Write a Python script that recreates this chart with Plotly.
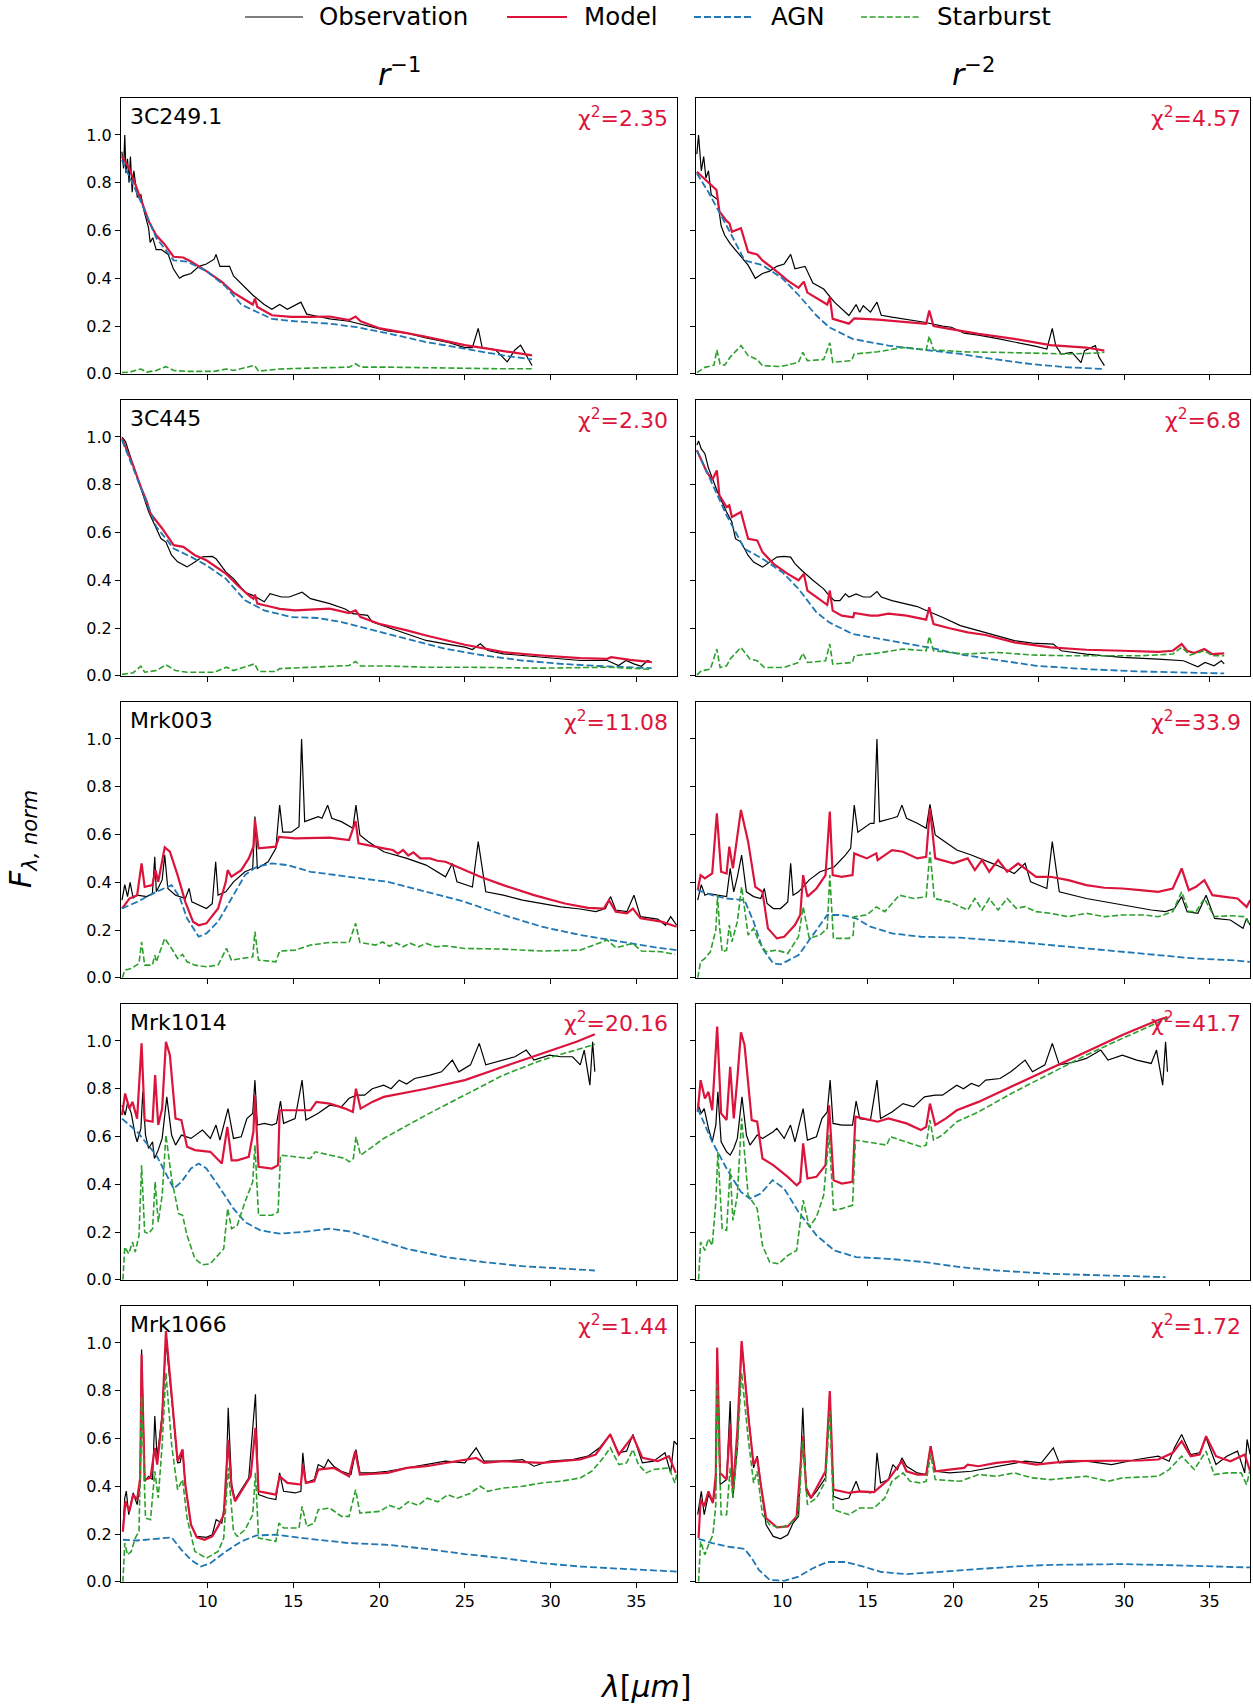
import plotly.graph_objects as go
from plotly.subplots import make_subplots

# Spectra as (wavelength [um], normalised flux) pairs, one list per curve.

# ---------------- 3C249.1 ----------------
OBS_3C249_R1 = [(5.00,0.93),(5.10,0.86),(5.17,1.00),(5.24,0.84),(5.33,0.90),(5.42,0.80),(5.50,0.91),(5.60,0.76),(5.70,0.85),(5.80,0.78),(5.90,0.74),(6.11,0.75),(6.30,0.68),(6.56,0.61),(6.65,0.55),(6.80,0.57),(7.00,0.52),(7.30,0.52),(7.70,0.50),(8.00,0.44),(8.36,0.40),(8.58,0.41),(9.03,0.42),(9.50,0.45),(9.93,0.46),(10.38,0.48),(10.49,0.50),(10.72,0.45),(11.28,0.45),(11.51,0.41),(12.18,0.36),(12.63,0.33),(13.30,0.29),(13.75,0.27),(14.20,0.29),(14.65,0.27),(15.44,0.30),(15.78,0.25),(16.45,0.24),(17.12,0.23),(18.25,0.22),(19.37,0.20),(20.49,0.18),(21.62,0.17),(22.74,0.15),(24.09,0.13),(25.00,0.11),(25.44,0.11),(25.78,0.19),(26.01,0.11),(26.79,0.10),(27.47,0.05),(27.92,0.10),(28.25,0.12),(28.58,0.08),(28.92,0.035)]
MOD_3C249_R1 = [(5.00,0.91),(5.44,0.86),(6.11,0.73),(6.56,0.64),(7.00,0.58),(7.46,0.545),(8.02,0.49),(8.58,0.487),(9.03,0.47),(9.93,0.43),(10.83,0.385),(11.51,0.34),(12.18,0.31),(12.63,0.29),(12.76,0.315),(12.90,0.28),(13.75,0.245),(14.88,0.238),(16.00,0.238),(17.12,0.24),(18.25,0.225),(18.63,0.24),(18.92,0.22),(20.05,0.19),(21.62,0.17),(22.74,0.155),(25.00,0.12),(27.24,0.095),(28.92,0.077)]
AGN_3C249_R1 = [(5.00,0.895),(6.11,0.72),(7.00,0.57),(8.02,0.475),(8.80,0.47),(9.93,0.43),(11.06,0.365),(11.96,0.29),(12.85,0.26),(13.75,0.23),(15.10,0.22),(17.12,0.21),(18.70,0.195),(20.49,0.17),(22.74,0.133),(25.00,0.105),(27.24,0.077),(28.92,0.06)]
SB_3C249_R1 = [(5.00,0.005),(5.44,0.007),(6.11,0.02),(6.45,0.007),(7.00,0.014),(7.57,0.03),(8.02,0.014),(8.80,0.01),(10.38,0.01),(11.10,0.02),(11.51,0.014),(12.74,0.035),(12.97,0.011),(14.20,0.02),(16.00,0.024),(18.25,0.028),(18.63,0.042),(18.92,0.028),(20.49,0.028),(22.74,0.025),(25.00,0.024),(27.24,0.021),(28.92,0.021)]

OBS_3C249_R2 = [(5.00,0.92),(5.10,1.00),(5.26,0.85),(5.40,0.91),(5.53,0.82),(5.68,0.85),(5.84,0.75),(6.21,0.73),(6.42,0.62),(6.63,0.58),(6.95,0.545),(7.37,0.51),(8.00,0.455),(8.42,0.40),(8.84,0.42),(9.26,0.43),(9.68,0.45),(10.11,0.46),(10.49,0.50),(10.74,0.44),(11.33,0.45),(11.79,0.38),(12.42,0.355),(13.05,0.30),(13.90,0.244),(14.32,0.29),(14.53,0.258),(14.74,0.285),(15.16,0.258),(15.54,0.30),(15.79,0.245),(16.42,0.237),(17.27,0.227),(18.32,0.216),(19.37,0.20),(19.90,0.195),(20.64,0.17),(21.48,0.162),(22.53,0.148),(23.58,0.134),(24.85,0.115),(25.48,0.104),(25.80,0.19),(26.00,0.118),(26.32,0.083),(26.95,0.09),(27.48,0.047),(27.69,0.097),(28.32,0.118),(28.53,0.07),(28.85,0.034)]
MOD_3C249_R2 = [(5.00,0.846),(5.68,0.80),(6.15,0.77),(6.32,0.68),(6.74,0.64),(6.91,0.63),(7.05,0.595),(7.58,0.61),(8.00,0.51),(8.53,0.50),(8.84,0.475),(9.47,0.44),(10.32,0.39),(10.95,0.36),(11.26,0.386),(11.47,0.34),(12.00,0.317),(12.63,0.29),(12.78,0.32),(12.95,0.23),(13.90,0.21),(14.21,0.232),(15.58,0.227),(17.27,0.218),(18.42,0.209),(18.60,0.265),(18.85,0.20),(19.79,0.188),(21.48,0.167),(23.58,0.146),(25.69,0.12),(27.79,0.11),(28.85,0.097)]
AGN_3C249_R2 = [(5.00,0.84),(5.68,0.76),(6.74,0.62),(7.79,0.475),(8.84,0.455),(10.00,0.40),(10.95,0.33),(12.00,0.244),(12.74,0.195),(14.11,0.146),(16.21,0.118),(18.53,0.10),(20.42,0.083),(22.53,0.06),(24.64,0.04),(26.74,0.027),(28.85,0.02)]
SB_3C249_R2 = [(5.00,0.005),(5.47,0.027),(6.00,0.036),(6.17,0.10),(6.36,0.041),(6.63,0.036),(6.95,0.07),(7.58,0.118),(8.00,0.076),(8.53,0.06),(8.84,0.034),(9.90,0.03),(10.95,0.048),(11.20,0.09),(11.47,0.055),(12.42,0.06),(12.78,0.13),(12.95,0.048),(14.05,0.055),(14.21,0.083),(15.58,0.092),(17.06,0.11),(18.42,0.10),(18.60,0.157),(18.85,0.10),(20.64,0.092),(22.53,0.09),(24.64,0.087),(26.74,0.083),(28.43,0.087),(28.85,0.09)]

# ---------------- 3C445 ----------------
OBS_3C445_R1 = [(5.01,1.00),(5.22,0.98),(5.44,0.93),(5.66,0.88),(6.11,0.785),(6.56,0.687),(7.01,0.617),(7.28,0.575),(7.57,0.56),(7.90,0.505),(8.25,0.477),(8.80,0.456),(9.26,0.477),(9.70,0.498),(10.27,0.50),(10.49,0.49),(11.06,0.435),(11.51,0.407),(12.18,0.35),(12.63,0.337),(13.30,0.31),(13.64,0.344),(14.31,0.33),(14.76,0.33),(15.51,0.35),(16.00,0.323),(17.12,0.302),(18.02,0.28),(18.47,0.26),(19.33,0.253),(19.60,0.225),(20.49,0.204),(21.62,0.176),(22.74,0.148),(23.87,0.134),(25.00,0.12),(25.44,0.11),(25.90,0.134),(26.34,0.106),(27.24,0.092),(28.36,0.085),(29.48,0.078),(30.60,0.071),(31.73,0.064),(33.30,0.064),(33.96,0.043),(34.40,0.064),(34.85,0.05),(35.30,0.04),(35.66,0.064),(35.89,0.057)]
MOD_3C445_R1 = [(5.01,0.994),(5.66,0.88),(6.11,0.79),(6.45,0.73),(6.67,0.68),(7.01,0.65),(7.35,0.617),(8.02,0.547),(8.58,0.54),(9.26,0.505),(9.93,0.484),(11.06,0.428),(11.73,0.38),(12.40,0.337),(12.67,0.323),(12.76,0.34),(12.90,0.302),(13.75,0.288),(14.20,0.28),(15.10,0.274),(16.00,0.278),(17.12,0.281),(18.25,0.263),(18.63,0.274),(18.92,0.246),(20.00,0.218),(21.62,0.19),(22.74,0.169),(25.00,0.13),(27.24,0.099),(29.48,0.085),(31.73,0.074),(33.30,0.071),(33.53,0.078),(34.63,0.067),(35.89,0.057)]
AGN_3C445_R1 = [(5.01,0.987),(6.11,0.785),(7.01,0.624),(8.02,0.533),(9.03,0.498),(9.93,0.463),(11.06,0.407),(12.18,0.316),(13.30,0.274),(14.88,0.246),(16.45,0.242),(17.80,0.225),(19.37,0.197),(21.62,0.155),(23.87,0.113),(26.12,0.085),(28.36,0.064),(30.60,0.05),(32.85,0.041),(35.89,0.032)]
SB_3C445_R1 = [(5.01,0.006),(5.66,0.013),(6.11,0.04),(6.33,0.015),(7.01,0.022),(7.57,0.046),(8.13,0.022),(8.80,0.015),(10.38,0.015),(11.10,0.036),(11.51,0.022),(12.74,0.05),(12.97,0.018),(13.98,0.018),(14.20,0.03),(16.00,0.036),(18.25,0.043),(18.63,0.06),(18.92,0.041),(20.49,0.041),(22.74,0.036),(25.00,0.036),(29.48,0.032),(33.30,0.036),(35.89,0.027)]

OBS_3C445_R2 = [(5.00,0.966),(5.10,0.983),(5.26,0.95),(5.47,0.93),(5.68,0.87),(6.21,0.77),(6.74,0.686),(7.05,0.644),(7.26,0.574),(7.58,0.56),(8.00,0.504),(8.32,0.476),(8.84,0.455),(9.16,0.47),(9.68,0.497),(10.11,0.50),(10.49,0.497),(10.74,0.47),(11.16,0.44),(11.79,0.40),(12.42,0.364),(12.74,0.336),(13.05,0.315),(13.37,0.315),(13.69,0.343),(13.90,0.33),(14.32,0.343),(14.74,0.33),(15.16,0.33),(15.54,0.353),(15.79,0.33),(16.42,0.315),(17.27,0.30),(17.90,0.29),(18.53,0.27),(19.37,0.245),(20.42,0.21),(21.48,0.19),(22.53,0.168),(23.58,0.147),(24.64,0.137),(25.86,0.133),(26.32,0.105),(27.79,0.091),(29.90,0.077),(32.00,0.07),(33.48,0.063),(34.32,0.038),(34.74,0.056),(35.27,0.042),(35.69,0.063),(35.86,0.05)]
MOD_3C445_R2 = [(5.00,0.945),(5.58,0.854),(5.90,0.82),(6.17,0.86),(6.32,0.756),(6.74,0.707),(6.90,0.714),(7.05,0.665),(7.58,0.686),(8.00,0.574),(8.53,0.567),(8.84,0.518),(9.47,0.47),(10.32,0.427),(10.95,0.40),(11.26,0.427),(11.47,0.357),(12.00,0.33),(12.63,0.297),(12.78,0.357),(12.95,0.273),(13.48,0.252),(14.15,0.245),(14.21,0.263),(15.16,0.252),(15.58,0.252),(16.21,0.26),(17.27,0.252),(18.42,0.235),(18.60,0.287),(18.85,0.217),(19.79,0.199),(20.85,0.182),(21.90,0.171),(23.58,0.14),(25.69,0.119),(27.79,0.109),(29.90,0.105),(32.00,0.10),(32.85,0.105),(33.37,0.133),(33.69,0.105),(34.11,0.095),(34.70,0.112),(35.17,0.091),(35.86,0.094)]
AGN_3C445_R2 = [(5.00,0.945),(5.68,0.84),(6.74,0.672),(7.79,0.532),(8.84,0.49),(10.00,0.434),(10.95,0.364),(12.00,0.266),(12.74,0.224),(14.11,0.175),(16.21,0.147),(18.53,0.119),(20.64,0.087),(22.74,0.063),(24.85,0.042),(27.79,0.028),(30.95,0.018),(35.86,0.01)]
SB_3C445_R2 = [(5.00,0.003),(5.26,0.021),(5.79,0.028),(6.17,0.112),(6.36,0.035),(6.74,0.042),(6.95,0.07),(7.58,0.119),(8.11,0.07),(8.53,0.063),(8.95,0.035),(10.11,0.035),(10.95,0.056),(11.20,0.095),(11.47,0.056),(12.53,0.063),(12.78,0.133),(12.95,0.049),(14.11,0.056),(14.21,0.084),(15.58,0.095),(17.06,0.112),(18.42,0.105),(18.60,0.165),(18.85,0.105),(20.64,0.091),(22.53,0.098),(24.64,0.087),(26.74,0.084),(28.85,0.084),(31.00,0.084),(32.85,0.091),(33.37,0.119),(33.85,0.087),(34.70,0.105),(35.17,0.084),(35.86,0.084)]

# ---------------- Mrk003 ----------------
OBS_MRK003_R1 = [(5.01,0.325),(5.17,0.39),(5.33,0.34),(5.48,0.40),(5.66,0.334),(5.89,0.346),(6.45,0.34),(6.78,0.353),(6.92,0.507),(7.01,0.36),(7.35,0.41),(7.50,0.514),(7.68,0.374),(8.13,0.346),(8.70,0.332),(8.92,0.374),(9.08,0.318),(9.48,0.304),(9.93,0.29),(10.27,0.31),(10.47,0.486),(10.61,0.346),(11.06,0.36),(11.51,0.402),(12.18,0.444),(12.63,0.458),(12.76,0.675),(12.90,0.458),(13.53,0.486),(13.98,0.542),(14.20,0.723),(14.38,0.61),(14.88,0.61),(15.33,0.633),(15.48,1.00),(15.66,0.654),(16.45,0.675),(16.67,0.668),(17.00,0.723),(17.24,0.668),(17.80,0.654),(18.47,0.626),(18.65,0.723),(18.88,0.598),(19.37,0.57),(20.27,0.528),(21.62,0.50),(22.74,0.472),(23.87,0.423),(24.27,0.479),(24.54,0.402),(25.44,0.38),(25.78,0.57),(26.22,0.36),(27.24,0.346),(28.36,0.325),(29.48,0.311),(30.60,0.297),(31.73,0.288),(32.63,0.277),(33.20,0.29),(33.50,0.34),(33.80,0.284),(34.45,0.277),(34.86,0.346),(35.24,0.256),(36.25,0.246),(36.70,0.22),(37.00,0.256),(37.35,0.22)]
MOD_MRK003_R1 = [(5.01,0.29),(5.44,0.332),(5.89,0.346),(6.15,0.479),(6.33,0.381),(6.78,0.388),(6.96,0.451),(7.12,0.402),(7.50,0.546),(7.80,0.528),(8.25,0.43),(8.70,0.318),(9.15,0.235),(9.48,0.22),(9.93,0.228),(10.61,0.29),(11.06,0.402),(11.17,0.451),(11.39,0.423),(11.96,0.451),(12.40,0.50),(12.67,0.549),(12.76,0.661),(12.97,0.542),(13.98,0.549),(14.16,0.59),(15.10,0.584),(16.00,0.584),(17.12,0.587),(18.25,0.577),(18.63,0.656),(18.80,0.563),(19.37,0.556),(20.27,0.542),(20.80,0.535),(21.10,0.52),(21.40,0.535),(21.70,0.512),(22.00,0.525),(22.40,0.50),(22.97,0.50),(23.40,0.49),(23.87,0.486),(24.76,0.458),(25.90,0.423),(27.24,0.388),(29.03,0.346),(30.83,0.311),(32.18,0.293),(33.10,0.29),(33.40,0.325),(33.80,0.277),(34.45,0.27),(34.80,0.29),(35.24,0.249),(36.46,0.235),(37.35,0.214)]
AGN_MRK003_R1 = [(5.01,0.29),(5.89,0.318),(7.01,0.36),(7.90,0.388),(8.36,0.34),(8.80,0.249),(9.48,0.172),(9.93,0.186),(10.61,0.235),(11.51,0.346),(12.18,0.43),(12.85,0.465),(13.75,0.479),(14.65,0.472),(16.00,0.444),(18.25,0.423),(20.49,0.402),(22.74,0.36),(25.00,0.318),(27.24,0.263),(29.48,0.214),(31.73,0.179),(33.98,0.151),(36.23,0.126),(37.35,0.116)]
SB_MRK003_R1 = [(5.03,0.0),(5.17,0.032),(5.55,0.039),(6.00,0.06),(6.15,0.15),(6.33,0.053),(6.78,0.053),(6.92,0.095),(7.01,0.067),(7.50,0.165),(7.90,0.123),(8.25,0.081),(8.54,0.098),(8.80,0.067),(9.26,0.053),(9.93,0.046),(10.61,0.053),(11.10,0.123),(11.39,0.074),(11.96,0.081),(12.63,0.088),(12.76,0.193),(12.97,0.074),(13.98,0.067),(14.20,0.112),(15.10,0.116),(16.00,0.137),(17.12,0.148),(18.25,0.148),(18.63,0.228),(18.88,0.148),(19.80,0.137),(20.20,0.15),(20.60,0.132),(21.00,0.146),(21.40,0.13),(21.80,0.145),(22.30,0.13),(22.74,0.144),(23.30,0.13),(23.87,0.134),(25.00,0.123),(27.24,0.12),(29.48,0.112),(31.73,0.116),(33.30,0.158),(33.80,0.126),(34.80,0.144),(35.30,0.112),(36.46,0.109),(37.25,0.098)]

OBS_MRK003_R2 = [(5.05,0.325),(5.26,0.39),(5.47,0.346),(5.68,0.353),(6.21,0.346),(6.74,0.34),(6.95,0.458),(7.16,0.36),(7.37,0.423),(7.62,0.514),(7.90,0.36),(8.32,0.34),(8.74,0.332),(8.95,0.374),(9.11,0.311),(9.47,0.29),(9.90,0.29),(10.32,0.318),(10.49,0.479),(10.63,0.346),(10.95,0.36),(11.58,0.41),(12.21,0.444),(12.74,0.458),(13.05,0.465),(13.69,0.514),(14.00,0.542),(14.21,0.723),(14.42,0.61),(15.16,0.647),(15.37,0.647),(15.54,1.00),(15.69,0.654),(16.42,0.668),(16.74,0.675),(17.00,0.723),(17.27,0.668),(17.90,0.647),(18.42,0.626),(18.64,0.726),(18.95,0.598),(19.37,0.577),(20.21,0.535),(21.06,0.514),(22.53,0.472),(23.58,0.437),(24.21,0.479),(24.53,0.402),(25.48,0.374),(25.80,0.57),(26.21,0.36),(27.79,0.332),(29.90,0.304),(31.59,0.284),(32.43,0.277),(32.95,0.29),(33.37,0.34),(33.69,0.277),(34.32,0.27),(34.80,0.346),(35.30,0.249),(36.22,0.242),(36.96,0.207),(37.17,0.249),(37.38,0.22)]
MOD_MRK003_R2 = [(5.05,0.367),(5.22,0.43),(5.47,0.416),(5.90,0.437),(6.17,0.689),(6.42,0.444),(6.74,0.437),(6.90,0.549),(7.11,0.458),(7.58,0.703),(8.00,0.57),(8.42,0.381),(8.84,0.36),(9.16,0.207),(9.68,0.165),(10.11,0.172),(10.74,0.221),(11.05,0.263),(11.22,0.43),(11.47,0.34),(12.00,0.374),(12.53,0.43),(12.78,0.696),(12.95,0.43),(13.48,0.423),(14.11,0.43),(14.21,0.521),(14.95,0.50),(15.50,0.521),(15.58,0.493),(16.42,0.535),(17.06,0.528),(17.90,0.50),(18.42,0.507),(18.64,0.709),(18.95,0.50),(20.00,0.479),(20.85,0.50),(21.27,0.451),(21.69,0.493),(22.11,0.444),(22.63,0.493),(23.16,0.444),(23.80,0.479),(24.85,0.423),(25.69,0.423),(26.74,0.409),(27.79,0.388),(28.85,0.377),(29.90,0.374),(30.95,0.367),(32.00,0.36),(32.85,0.374),(33.37,0.458),(33.79,0.367),(34.21,0.381),(34.70,0.409),(35.17,0.346),(35.80,0.34),(36.64,0.332),(37.17,0.297),(37.38,0.325)]
AGN_MRK003_R2 = [(5.05,0.367),(5.90,0.346),(6.74,0.332),(7.79,0.325),(8.32,0.235),(8.84,0.123),(9.47,0.06),(9.90,0.056),(10.95,0.095),(11.79,0.179),(12.63,0.263),(13.48,0.263),(14.32,0.249),(15.16,0.214),(16.42,0.186),(18.11,0.172),(20.42,0.168),(23.58,0.151),(25.69,0.137),(27.79,0.12),(29.90,0.109),(32.00,0.095),(34.11,0.081),(36.22,0.074),(37.38,0.067)]
SB_MRK003_R2 = [(5.05,0.0),(5.22,0.067),(5.47,0.081),(5.79,0.109),(6.11,0.20),(6.21,0.346),(6.32,0.221),(6.48,0.109),(6.74,0.116),(6.90,0.221),(7.05,0.151),(7.37,0.235),(7.62,0.381),(8.00,0.179),(8.32,0.207),(8.63,0.151),(9.05,0.109),(9.68,0.116),(10.32,0.102),(10.95,0.172),(11.22,0.297),(11.58,0.165),(12.21,0.179),(12.63,0.207),(12.78,0.43),(12.99,0.165),(13.90,0.165),(14.15,0.179),(14.21,0.256),(14.95,0.263),(15.50,0.297),(16.00,0.277),(16.85,0.346),(17.69,0.332),(18.42,0.339),(18.64,0.528),(18.90,0.332),(19.79,0.318),(20.85,0.284),(21.27,0.332),(21.69,0.284),(22.11,0.332),(22.63,0.284),(23.16,0.332),(23.69,0.291),(24.21,0.298),(24.85,0.277),(25.69,0.27),(26.74,0.256),(27.79,0.27),(28.85,0.256),(29.90,0.263),(31.17,0.263),(32.00,0.256),(32.85,0.277),(33.37,0.36),(33.79,0.277),(34.21,0.277),(34.70,0.332),(35.27,0.256),(36.22,0.26),(37.06,0.256),(37.38,0.22)]

# ---------------- Mrk1014 ----------------
OBS_MRK1014_R1 = [(5.01,0.731),(5.19,0.69),(5.33,0.74),(5.55,0.697),(5.78,0.606),(5.89,0.578),(6.11,0.634),(6.22,0.787),(6.38,0.606),(6.56,0.55),(6.79,0.578),(6.90,0.508),(7.12,0.543),(7.35,0.592),(7.62,0.766),(7.90,0.606),(8.13,0.564),(8.47,0.606),(9.03,0.592),(9.70,0.627),(10.16,0.592),(10.49,0.648),(10.72,0.585),(11.19,0.717),(11.51,0.592),(11.96,0.599),(12.29,0.675),(12.63,0.697),(12.76,0.836),(12.90,0.648),(13.30,0.655),(13.75,0.648),(14.02,0.655),(14.25,0.748),(14.43,0.655),(15.10,0.675),(15.51,0.836),(15.73,0.669),(16.45,0.697),(17.12,0.731),(17.80,0.724),(18.25,0.76),(18.70,0.773),(19.15,0.773),(19.60,0.80),(20.27,0.815),(20.70,0.80),(21.17,0.836),(21.60,0.82),(22.07,0.843),(22.97,0.857),(23.64,0.871),(24.27,0.92),(24.65,0.871),(25.33,0.90),(25.84,0.99),(26.22,0.90),(27.24,0.92),(27.92,0.934),(28.58,0.962),(29.03,0.92),(29.93,0.941),(30.60,0.934),(31.28,0.934),(31.73,0.90),(31.96,0.962),(32.29,0.815),(32.45,0.997),(32.58,0.871)]
MOD_MRK1014_R1 = [(5.01,0.69),(5.19,0.78),(5.44,0.717),(5.62,0.745),(5.89,0.675),(6.15,0.99),(6.33,0.669),(6.79,0.662),(6.94,0.857),(7.12,0.648),(7.35,0.717),(7.57,0.997),(7.80,0.941),(8.13,0.675),(8.47,0.669),(8.80,0.557),(9.26,0.543),(10.16,0.536),(10.83,0.487),(11.15,0.64),(11.40,0.50),(11.73,0.50),(12.40,0.515),(12.67,0.62),(12.76,0.773),(12.97,0.473),(13.75,0.466),(14.11,0.48),(14.20,0.71),(14.65,0.71),(16.00,0.71),(16.34,0.745),(17.12,0.738),(18.02,0.717),(18.47,0.703),(18.65,0.80),(18.92,0.717),(19.60,0.745),(20.27,0.766),(22.74,0.80),(25.00,0.836),(27.24,0.892),(29.48,0.948),(31.51,0.997),(32.58,1.028)]
AGN_MRK1014_R1 = [(5.01,0.675),(5.89,0.62),(7.01,0.522),(8.02,0.382),(8.47,0.41),(9.03,0.466),(9.48,0.487),(9.93,0.466),(10.61,0.396),(11.51,0.298),(12.18,0.242),(13.08,0.207),(14.20,0.193),(15.55,0.20),(17.12,0.214),(18.25,0.203),(20.00,0.165),(21.62,0.13),(23.87,0.095),(26.12,0.074),(28.36,0.057),(30.60,0.046),(32.58,0.039)]
SB_MRK1014_R1 = [(5.06,0.0),(5.17,0.137),(5.40,0.109),(5.62,0.158),(5.78,0.116),(6.00,0.186),(6.15,0.48),(6.33,0.20),(6.56,0.193),(6.79,0.214),(6.94,0.41),(7.12,0.242),(7.35,0.354),(7.57,0.606),(7.90,0.424),(8.31,0.277),(8.54,0.27),(8.80,0.186),(9.26,0.088),(9.70,0.063),(10.16,0.067),(10.61,0.102),(10.94,0.13),(11.17,0.298),(11.40,0.214),(11.73,0.228),(12.18,0.326),(12.63,0.41),(12.76,0.564),(12.97,0.27),(13.75,0.27),(14.11,0.284),(14.25,0.522),(15.10,0.515),(16.00,0.508),(16.27,0.536),(17.12,0.522),(18.02,0.508),(18.25,0.494),(18.50,0.508),(18.65,0.599),(18.92,0.522),(19.60,0.557),(20.27,0.592),(22.74,0.69),(25.00,0.773),(27.24,0.857),(29.48,0.92),(31.51,0.962),(32.58,0.986)]

OBS_MRK1014_R2 = [(5.05,0.738),(5.26,0.697),(5.43,0.717),(5.68,0.634),(5.90,0.578),(6.11,0.648),(6.23,0.787),(6.42,0.578),(6.74,0.536),(6.95,0.522),(7.16,0.55),(7.37,0.592),(7.64,0.766),(7.90,0.606),(8.11,0.564),(8.53,0.606),(8.84,0.592),(9.47,0.62),(9.68,0.634),(10.11,0.592),(10.48,0.648),(10.74,0.578),(11.22,0.717),(11.47,0.585),(12.00,0.599),(12.32,0.675),(12.63,0.703),(12.80,0.836),(12.97,0.655),(13.48,0.648),(14.11,0.648),(14.32,0.748),(14.53,0.675),(15.16,0.669),(15.54,0.836),(15.75,0.675),(16.42,0.703),(17.06,0.738),(17.69,0.724),(18.32,0.766),(18.95,0.773),(19.37,0.773),(20.21,0.815),(20.60,0.80),(21.06,0.822),(21.50,0.81),(21.90,0.836),(22.74,0.843),(23.37,0.871),(24.21,0.92),(24.64,0.871),(25.37,0.90),(25.80,0.99),(26.21,0.90),(27.16,0.913),(27.79,0.927),(28.64,0.962),(29.06,0.92),(29.90,0.941),(30.74,0.92),(31.59,0.906),(31.90,0.962),(32.26,0.815),(32.43,0.997),(32.54,0.871)]
MOD_MRK1014_R2 = [(5.05,0.703),(5.22,0.836),(5.47,0.759),(5.68,0.787),(5.90,0.71),(6.19,1.06),(6.42,0.697),(6.74,0.669),(6.95,0.892),(7.16,0.676),(7.37,0.843),(7.58,1.036),(7.79,0.983),(8.21,0.669),(8.53,0.662),(8.84,0.508),(9.47,0.48),(10.32,0.431),(10.84,0.396),(11.05,0.41),(11.22,0.571),(11.47,0.424),(12.00,0.431),(12.53,0.48),(12.74,0.731),(13.00,0.417),(13.48,0.403),(14.11,0.41),(14.28,0.683),(15.58,0.662),(16.21,0.676),(17.27,0.655),(18.11,0.627),(18.42,0.641),(18.64,0.738),(18.95,0.648),(19.58,0.676),(20.21,0.71),(21.48,0.745),(23.58,0.815),(25.69,0.885),(27.79,0.955),(29.90,1.025),(32.00,1.088),(32.54,1.10)]
AGN_MRK1014_R2 = [(5.05,0.717),(5.90,0.578),(6.74,0.466),(7.58,0.368),(8.11,0.34),(8.74,0.361),(9.43,0.417),(10.11,0.382),(10.95,0.284),(12.00,0.186),(13.05,0.123),(14.32,0.095),(16.21,0.088),(18.32,0.074),(20.42,0.053),(22.53,0.039),(25.69,0.025),(28.85,0.018),(32.43,0.011)]
SB_MRK1014_R2 = [(5.10,0.0),(5.22,0.158),(5.47,0.123),(5.68,0.172),(5.90,0.144),(6.11,0.326),(6.23,0.536),(6.48,0.214),(6.74,0.207),(6.95,0.466),(7.11,0.249),(7.37,0.354),(7.62,0.676),(8.00,0.354),(8.53,0.298),(8.84,0.144),(9.26,0.074),(9.79,0.067),(10.32,0.102),(10.84,0.123),(11.05,0.242),(11.22,0.333),(11.58,0.221),(12.00,0.263),(12.42,0.354),(12.74,0.606),(13.00,0.291),(13.48,0.298),(14.11,0.312),(14.28,0.585),(16.11,0.564),(16.32,0.599),(18.11,0.557),(18.42,0.564),(18.64,0.669),(18.85,0.585),(19.37,0.606),(20.21,0.662),(21.48,0.703),(23.58,0.787),(25.69,0.864),(27.79,0.941),(29.90,1.011),(32.54,1.095)]

# ---------------- Mrk1066 ----------------
OBS_MRK1066_R1 = [(5.06,0.21),(5.17,0.351),(5.26,0.38),(5.40,0.281),(5.55,0.337),(5.66,0.372),(5.89,0.323),(6.07,0.407),(6.15,0.973),(6.33,0.421),(6.56,0.442),(6.79,0.428),(6.92,0.694),(7.06,0.519),(7.35,0.70),(7.57,1.008),(7.90,0.771),(8.25,0.498),(8.40,0.50),(8.54,0.554),(8.70,0.407),(9.03,0.239),(9.37,0.19),(9.93,0.186),(10.27,0.197),(10.50,0.26),(10.83,0.246),(11.06,0.365),(11.20,0.729),(11.40,0.407),(11.60,0.344),(11.96,0.386),(12.40,0.435),(12.79,0.785),(12.97,0.365),(13.53,0.351),(13.98,0.344),(14.20,0.456),(14.43,0.379),(15.10,0.372),(15.44,0.379),(15.55,0.54),(15.73,0.414),(16.22,0.428),(16.45,0.491),(16.80,0.477),(17.03,0.512),(17.35,0.484),(17.80,0.463),(18.36,0.449),(18.65,0.554),(18.88,0.456),(19.60,0.456),(20.49,0.463),(21.62,0.477),(22.74,0.491),(23.87,0.505),(25.00,0.498),(25.66,0.561),(26.12,0.505),(27.24,0.505),(28.36,0.512),(29.03,0.484),(29.93,0.505),(31.28,0.512),(32.18,0.526),(32.85,0.561),(33.48,0.617),(33.93,0.54),(34.43,0.547),(34.80,0.617),(35.35,0.498),(36.00,0.505),(36.67,0.54),(37.00,0.456),(37.20,0.589),(37.37,0.575)]
MOD_MRK1066_R1 = [(5.06,0.211),(5.21,0.337),(5.44,0.295),(5.66,0.365),(5.89,0.344),(6.07,0.435),(6.15,0.952),(6.33,0.428),(6.67,0.435),(6.92,0.561),(7.06,0.491),(7.35,0.687),(7.57,1.05),(7.90,0.771),(8.25,0.505),(8.54,0.554),(8.70,0.407),(9.03,0.239),(9.37,0.186),(9.82,0.176),(10.27,0.19),(10.61,0.232),(10.94,0.281),(11.20,0.596),(11.40,0.393),(11.60,0.337),(11.96,0.379),(12.51,0.442),(12.79,0.645),(12.97,0.379),(13.98,0.365),(14.20,0.442),(14.65,0.414),(15.44,0.407),(15.55,0.491),(15.73,0.414),(16.22,0.421),(16.45,0.47),(17.35,0.477),(18.25,0.442),(18.60,0.547),(18.88,0.449),(20.49,0.456),(21.62,0.477),(22.74,0.484),(23.87,0.498),(25.66,0.519),(26.12,0.498),(27.24,0.505),(29.48,0.498),(31.73,0.512),(32.63,0.533),(33.48,0.617),(33.98,0.533),(34.80,0.61),(35.35,0.519),(36.25,0.505),(36.90,0.526),(37.30,0.456)]
AGN_MRK1066_R1 = [(5.06,0.176),(5.89,0.173),(7.01,0.18),(7.90,0.186),(8.47,0.134),(9.03,0.092),(9.60,0.064),(10.16,0.078),(11.06,0.127),(11.96,0.169),(12.85,0.194),(13.98,0.197),(15.55,0.183),(18.25,0.162),(20.49,0.155),(22.74,0.138),(25.00,0.116),(27.24,0.099),(29.48,0.078),(31.73,0.064),(33.98,0.055),(37.35,0.043)]
SB_MRK1066_R1 = [(5.06,0.0),(5.17,0.162),(5.33,0.113),(5.55,0.127),(5.78,0.183),(6.00,0.211),(6.15,0.778),(6.38,0.267),(6.67,0.26),(6.92,0.463),(7.12,0.351),(7.35,0.575),(7.57,0.876),(7.90,0.575),(8.25,0.386),(8.54,0.428),(8.80,0.267),(9.26,0.127),(9.93,0.099),(10.61,0.127),(10.94,0.183),(11.20,0.477),(11.51,0.211),(11.73,0.19),(12.18,0.218),(12.63,0.281),(12.79,0.456),(12.97,0.183),(13.53,0.176),(13.98,0.169),(14.16,0.246),(14.43,0.225),(15.33,0.225),(15.51,0.316),(15.78,0.232),(16.22,0.246),(16.45,0.302),(17.12,0.309),(17.80,0.274),(18.25,0.274),(18.63,0.386),(18.88,0.288),(20.05,0.295),(20.60,0.32),(21.17,0.305),(21.70,0.335),(22.29,0.32),(22.80,0.35),(23.42,0.335),(24.00,0.365),(24.54,0.35),(25.30,0.37),(25.90,0.40),(26.34,0.379),(27.24,0.393),(28.36,0.40),(29.48,0.414),(30.60,0.421),(31.73,0.435),(32.40,0.463),(33.07,0.519),(33.48,0.561),(33.98,0.491),(34.43,0.498),(34.80,0.554),(35.12,0.491),(35.57,0.456),(36.00,0.47),(36.90,0.477),(37.25,0.414),(37.37,0.456)]

OBS_MRK1066_R2 = [(5.05,0.281),(5.26,0.379),(5.43,0.281),(5.68,0.365),(5.94,0.33),(6.11,0.407),(6.19,0.98),(6.36,0.407),(6.74,0.428),(6.95,0.757),(7.11,0.351),(7.37,0.561),(7.62,1.00),(8.00,0.70),(8.32,0.477),(8.53,0.526),(8.74,0.407),(9.05,0.239),(9.47,0.19),(9.90,0.18),(10.32,0.197),(10.63,0.246),(10.95,0.274),(11.20,0.729),(11.40,0.379),(11.68,0.351),(12.00,0.379),(12.53,0.435),(12.78,0.792),(12.99,0.358),(13.48,0.344),(13.90,0.351),(14.32,0.421),(14.53,0.379),(15.16,0.372),(15.40,0.379),(15.54,0.54),(15.75,0.414),(16.21,0.428),(16.47,0.491),(16.74,0.47),(17.00,0.519),(17.27,0.484),(17.90,0.456),(18.42,0.449),(18.68,0.568),(18.95,0.463),(19.79,0.456),(21.06,0.463),(22.53,0.484),(24.21,0.505),(25.16,0.498),(25.86,0.561),(26.21,0.498),(27.79,0.505),(29.27,0.491),(30.74,0.512),(32.00,0.526),(32.64,0.505),(32.95,0.561),(33.37,0.617),(33.90,0.533),(34.42,0.54),(34.80,0.603),(35.38,0.491),(36.01,0.526),(36.64,0.547),(37.06,0.456),(37.20,0.596),(37.38,0.533)]
MOD_MRK1066_R2 = [(5.10,0.183),(5.22,0.344),(5.43,0.316),(5.68,0.379),(5.94,0.33),(6.11,0.449),(6.19,0.98),(6.36,0.456),(6.74,0.428),(6.95,0.659),(7.11,0.379),(7.37,0.631),(7.62,1.008),(8.00,0.70),(8.32,0.491),(8.53,0.519),(8.74,0.407),(9.05,0.267),(9.68,0.228),(10.32,0.232),(10.84,0.274),(11.20,0.61),(11.40,0.393),(11.68,0.351),(12.00,0.393),(12.53,0.463),(12.78,0.799),(12.99,0.386),(13.90,0.372),(14.53,0.379),(15.37,0.376),(16.21,0.428),(17.00,0.505),(17.27,0.463),(17.90,0.449),(18.42,0.449),(18.68,0.568),(18.95,0.463),(20.64,0.477),(20.85,0.49),(21.48,0.484),(22.53,0.498),(23.58,0.505),(24.85,0.491),(26.74,0.505),(28.85,0.505),(30.95,0.508),(32.00,0.512),(32.85,0.54),(33.37,0.589),(33.90,0.526),(34.42,0.533),(34.80,0.61),(35.38,0.526),(36.22,0.505),(37.06,0.533),(37.38,0.463)]
AGN_MRK1066_R2 = [(5.10,0.18),(5.90,0.162),(6.74,0.148),(7.79,0.138),(8.21,0.099),(8.63,0.05),(9.26,0.008),(10.11,0.004),(10.95,0.022),(11.79,0.057),(12.63,0.083),(13.69,0.083),(14.74,0.064),(15.79,0.041),(17.27,0.032),(19.37,0.043),(21.48,0.055),(23.58,0.064),(25.69,0.071),(27.79,0.074),(29.90,0.074),(32.00,0.071),(34.11,0.067),(37.38,0.06)]
SB_MRK1066_R2 = [(5.10,0.0),(5.22,0.169),(5.47,0.113),(5.68,0.155),(5.94,0.197),(6.11,0.323),(6.19,0.827),(6.42,0.281),(6.74,0.281),(6.95,0.477),(7.11,0.351),(7.37,0.561),(7.62,0.876),(8.00,0.603),(8.32,0.414),(8.53,0.463),(8.84,0.281),(9.26,0.239),(9.90,0.225),(10.53,0.246),(10.95,0.281),(11.20,0.589),(11.47,0.323),(12.00,0.351),(12.53,0.421),(12.78,0.715),(12.99,0.302),(13.90,0.281),(14.53,0.309),(15.37,0.309),(16.00,0.351),(16.42,0.421),(17.06,0.456),(17.48,0.421),(18.11,0.414),(18.42,0.421),(18.68,0.533),(18.95,0.428),(20.42,0.421),(21.48,0.449),(22.53,0.442),(23.58,0.456),(24.64,0.435),(25.69,0.428),(26.74,0.435),(27.79,0.442),(29.06,0.421),(29.90,0.435),(32.00,0.442),(32.64,0.47),(33.37,0.526),(34.11,0.47),(34.80,0.547),(35.27,0.449),(36.01,0.456),(36.85,0.456),(37.17,0.407),(37.38,0.47)]

# Panel metadata
GALAXIES = ["3C249.1", "3C445", "Mrk003", "Mrk1014", "Mrk1066"]
CHI2_R1 = ["2.35", "2.30", "11.08", "20.16", "1.44"]
CHI2_R2 = ["4.57", "6.8", "33.9", "41.7", "1.72"]
COLUMN_TITLES = ["<i>r</i><sup>\u22121</sup>", "<i>r</i><sup>\u22122</sup>"]
SERIES = ["Observation", "Model", "AGN", "Starburst"]
Y_TICKS = [0.0, 0.2, 0.4, 0.6, 0.8, 1.0]
X_TICKS = [10, 15, 20, 25, 30, 35]

PANELS = [
    [(OBS_3C249_R1, MOD_3C249_R1, AGN_3C249_R1, SB_3C249_R1),
     (OBS_3C249_R2, MOD_3C249_R2, AGN_3C249_R2, SB_3C249_R2)],
    [(OBS_3C445_R1, MOD_3C445_R1, AGN_3C445_R1, SB_3C445_R1),
     (OBS_3C445_R2, MOD_3C445_R2, AGN_3C445_R2, SB_3C445_R2)],
    [(OBS_MRK003_R1, MOD_MRK003_R1, AGN_MRK003_R1, SB_MRK003_R1),
     (OBS_MRK003_R2, MOD_MRK003_R2, AGN_MRK003_R2, SB_MRK003_R2)],
    [(OBS_MRK1014_R1, MOD_MRK1014_R1, AGN_MRK1014_R1, SB_MRK1014_R1),
     (OBS_MRK1014_R2, MOD_MRK1014_R2, AGN_MRK1014_R2, SB_MRK1014_R2)],
    [(OBS_MRK1066_R1, MOD_MRK1066_R1, AGN_MRK1066_R1, SB_MRK1066_R1),
     (OBS_MRK1066_R2, MOD_MRK1066_R2, AGN_MRK1066_R2, SB_MRK1066_R2)],
]

CRIMSON = "#DC143C"
LINE_STYLES = {
    "Observation": dict(color="black", width=1.2),
    "Model": dict(color=CRIMSON, width=2.2),
    "AGN": dict(color="#1f77b4", width=1.8, dash="7px,3px"),
    "Starburst": dict(color="#2ca02c", width=1.6, dash="6px,2.6px"),
}

W, H = 1253, 1708
FONT = "DejaVu Sans"

# Axes geometry in pixels
COL_X = [(121, 677), (696, 1250)]
ROW_TOP = [97.5, 399.5, 701.5, 1003.5, 1305.5]
ROW_H = 276.3
X_RANGE = [4.95, 37.37]
Y_RANGE = [0, 1.157]

# Figure-level key: sample-line start / end and label start (pixels), centre row
KEY_LINE_X = [(245, 303), (507, 567), (694, 754), (861, 921)]
KEY_TEXT_X = [317, 582, 769, 935]
KEY_Y = 17

fig = make_subplots(rows=5, cols=2)

for r in range(5):
    for c in range(2):
        for name, pairs in zip(SERIES, PANELS[r][c]):
            fig.add_trace(
                go.Scatter(
                    x=[p[0] for p in pairs],
                    y=[p[1] for p in pairs],
                    mode="lines",
                    name=name,
                    legendgroup=name,
                    showlegend=False,
                    line=LINE_STYLES[name],
                ),
                row=r + 1, col=c + 1,
            )

annotations = []
shapes = []
for r in range(5):
    for c in range(2):
        n = r * 2 + c + 1
        sx = "" if n == 1 else str(n)
        x0, x1 = COL_X[c]
        top = ROW_TOP[r]
        bot = top + ROW_H
        fig.layout[f"xaxis{sx}"].update(
            domain=[x0 / W, x1 / W], range=X_RANGE, tickvals=X_TICKS,
            showticklabels=(r == 4), ticks="outside", ticklen=5, tickwidth=1.1,
            tickcolor="black", showline=True, linecolor="black", linewidth=1.1,
            mirror=True, showgrid=False, zeroline=False, automargin=False,
            tickfont=dict(size=16, color="black", family=FONT),
        )
        fig.layout[f"yaxis{sx}"].update(
            domain=[1 - bot / H, 1 - top / H], range=Y_RANGE, tickvals=Y_TICKS,
            ticktext=[f"{v:.1f}" for v in Y_TICKS],
            showticklabels=(c == 0), ticks="outside", ticklen=5, tickwidth=1.1,
            tickcolor="black", showline=True, linecolor="black", linewidth=1.1,
            mirror=True, showgrid=False, zeroline=False, automargin=False,
            tickfont=dict(size=16, color="black", family=FONT),
        )
        if c == 0:
            annotations.append(dict(
                text=GALAXIES[r], xref=f"x{sx} domain", yref=f"y{sx} domain",
                x=7 / 556, y=1 - 19 / ROW_H, xanchor="left", yanchor="middle",
                showarrow=False, font=dict(size=22, color="black", family=FONT)))
        chi = (CHI2_R1 if c == 0 else CHI2_R2)[r]
        annotations.append(dict(
            text=f"\u03c7<sup>2</sup>={chi}", xref=f"x{sx} domain", yref=f"y{sx} domain",
            x=1 - 7 / 556, y=1 - 19 / ROW_H, xanchor="right", yanchor="middle",
            showarrow=False, font=dict(size=22, color=CRIMSON, family=FONT)))

for c in range(2):
    x0, x1 = COL_X[c]
    annotations.append(dict(
        text=COLUMN_TITLES[c], xref="paper", yref="paper",
        x=(x0 + x1) / 2 / W, y=1 - 73 / H, xanchor="center", yanchor="middle",
        showarrow=False, font=dict(size=30, color="black", family=FONT)))

annotations.append(dict(
    text="<i>F</i><sub><i>\u03bb, norm</i></sub>", xref="paper", yref="paper",
    x=22 / W, y=1 - 839 / H, xanchor="center", yanchor="middle", textangle=-90,
    showarrow=False, font=dict(size=30, color="black", family=FONT)))
annotations.append(dict(
    text="<i>\u03bb</i>[<i>\u03bcm</i>]", xref="paper", yref="paper",
    x=646 / W, y=1 - 1686 / H, xanchor="center", yanchor="middle",
    showarrow=False, font=dict(size=30, color="black", family=FONT)))

# Key: one sample line and label per series
for name, (lx0, lx1), tx in zip(SERIES, KEY_LINE_X, KEY_TEXT_X):
    st = LINE_STYLES[name]
    shapes.append(dict(
        type="line", xref="paper", yref="paper",
        x0=lx0 / W, x1=lx1 / W, y0=1 - KEY_Y / H, y1=1 - KEY_Y / H,
        line=dict(color=st["color"], width=st["width"], dash=st.get("dash", "solid"))))
    annotations.append(dict(
        text=name, xref="paper", yref="paper", x=tx / W, y=1 - KEY_Y / H,
        xanchor="left", yanchor="middle", showarrow=False,
        font=dict(size=24.5, color="black", family=FONT)))

fig.update_layout(
    template="none",
    width=W, height=H,
    margin=dict(l=0, r=0, t=0, b=0),
    paper_bgcolor="white", plot_bgcolor="white",
    font=dict(family=FONT, color="black"),
    annotations=annotations,
    shapes=shapes,
    showlegend=False,
)

fig.write_html("out.html")
